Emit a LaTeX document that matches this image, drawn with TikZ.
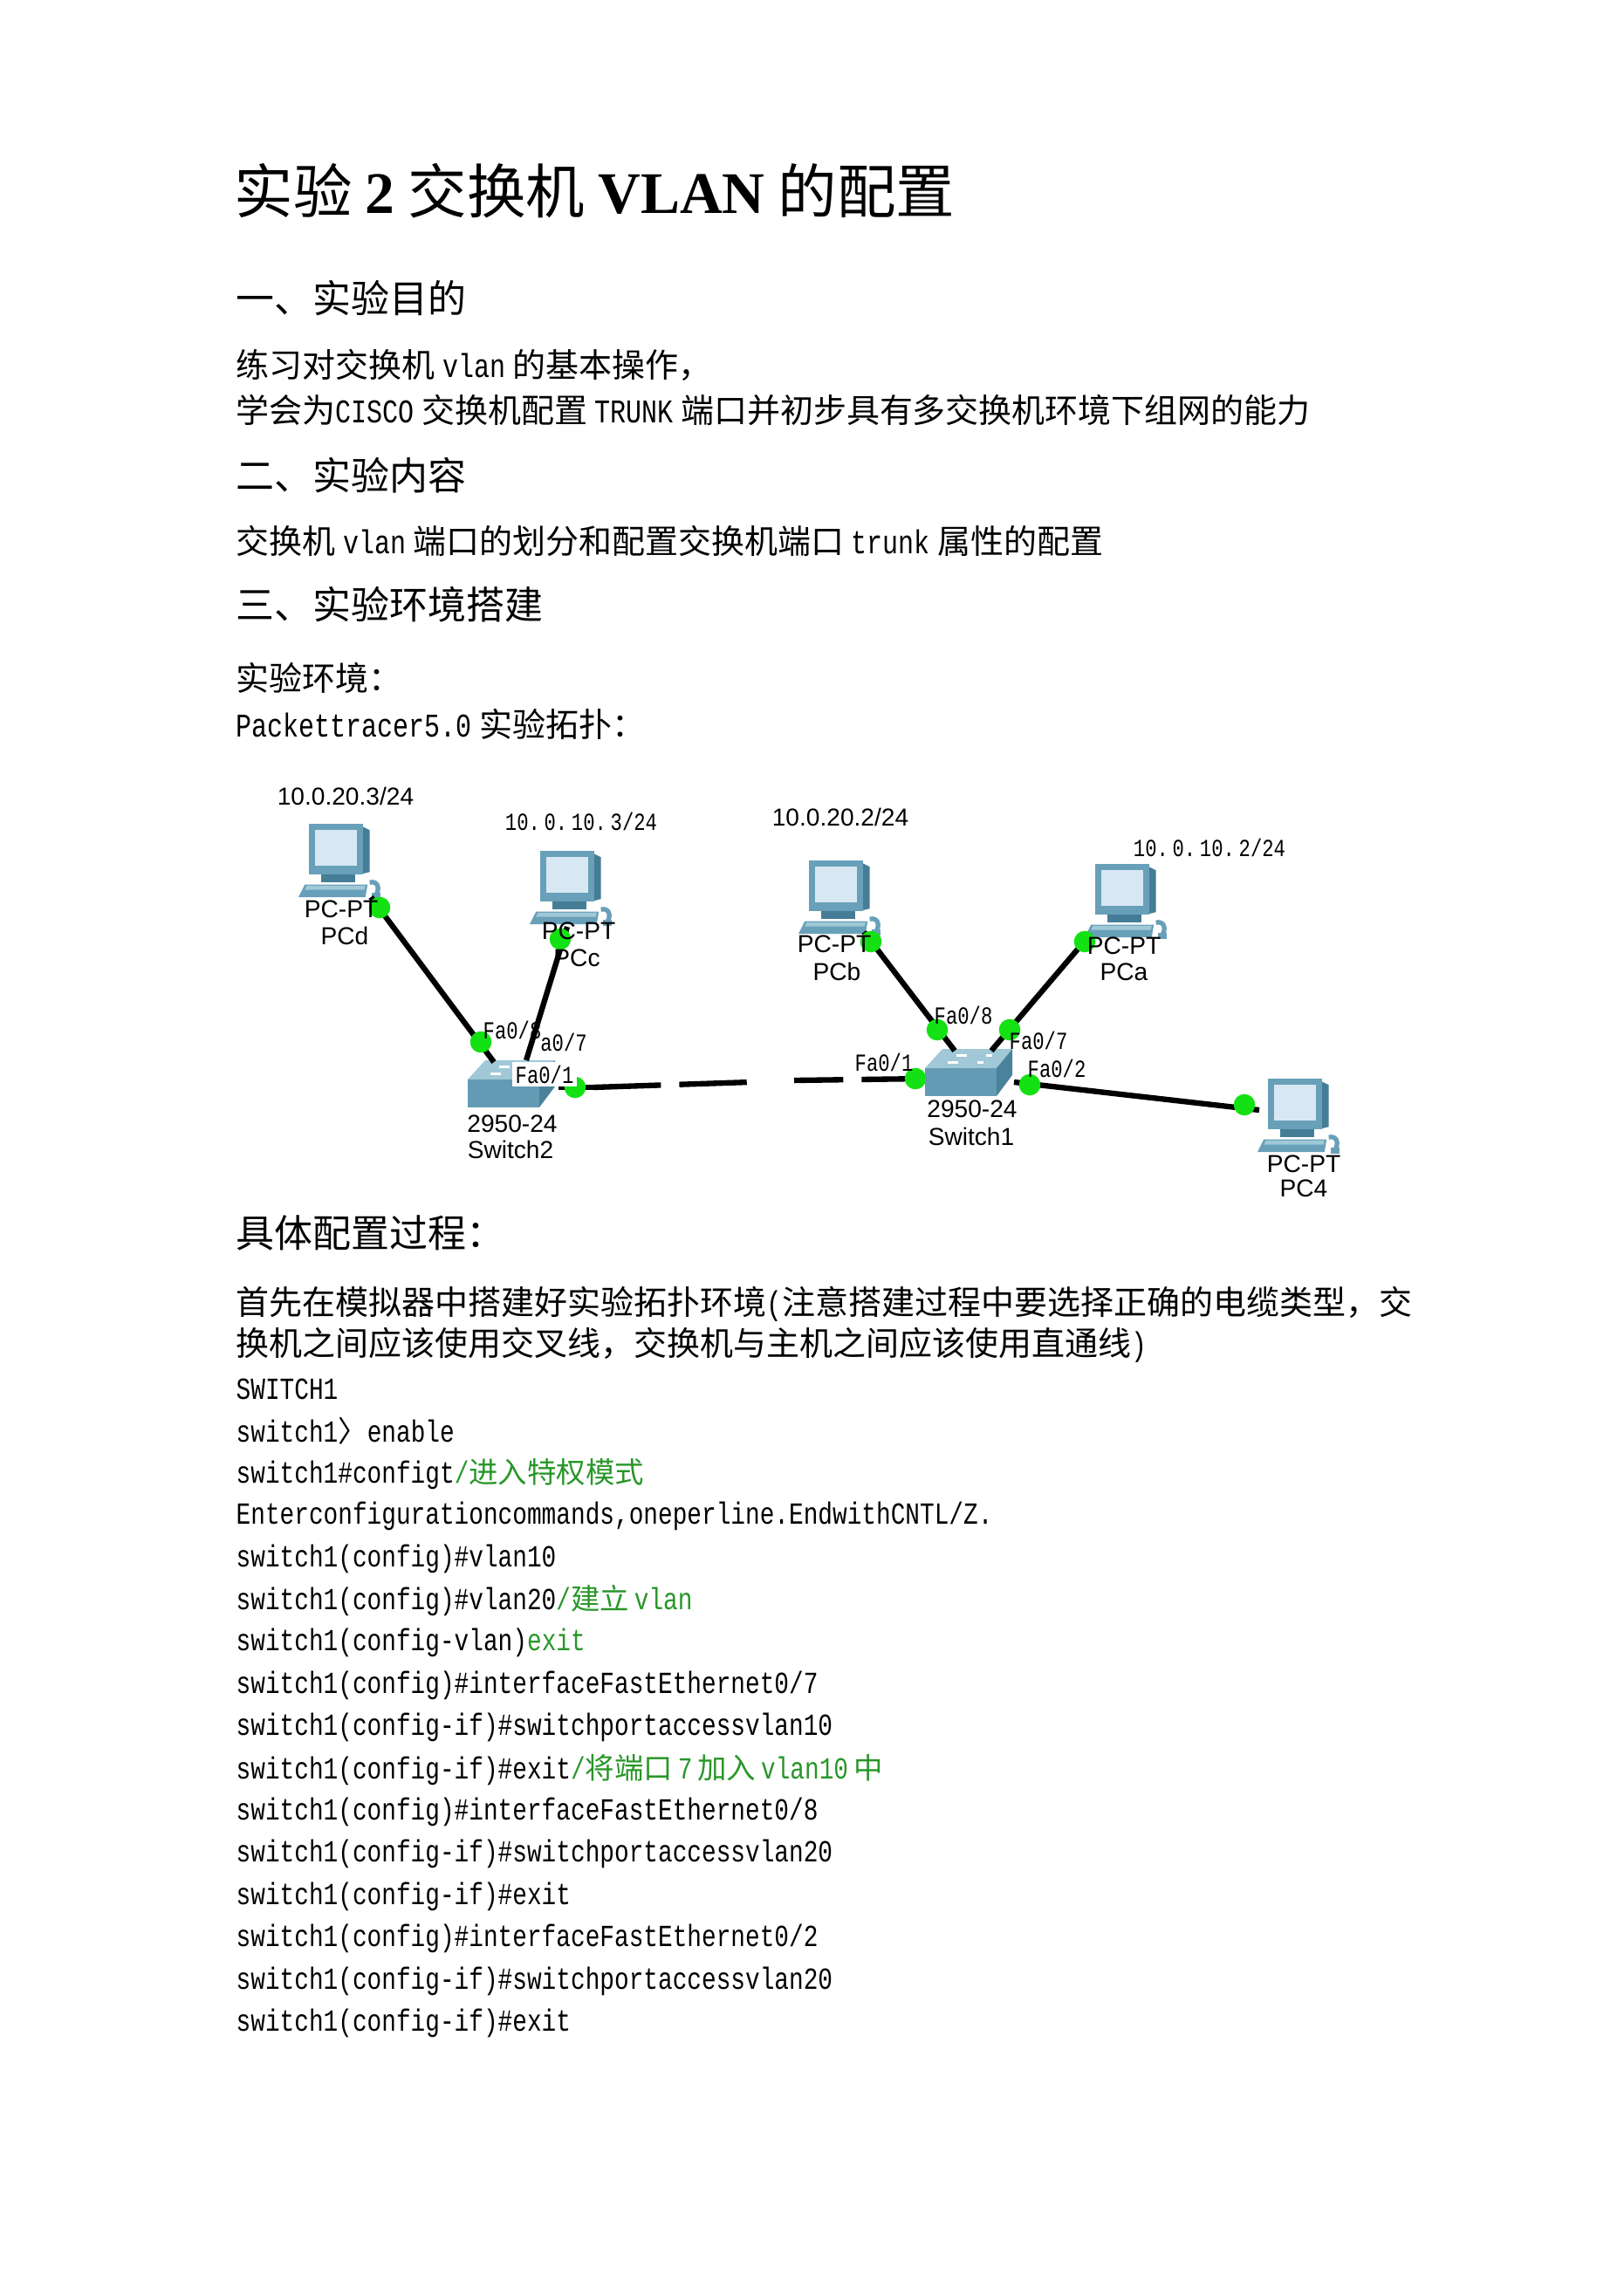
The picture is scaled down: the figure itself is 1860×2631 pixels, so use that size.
\documentclass[tikz,border=0pt]{standalone}
\usepackage{fontspec}
\setmainfont{Liberation Serif}
\newfontfamily\zh{Noto Sans CJK SC}
\newfontfamily\mono[FakeStretch=0.79]{Liberation Mono}
\newfontfamily\arial{Liberation Sans}
\definecolor{pcblue}{RGB}{105,160,185}
\definecolor{pcdark}{RGB}{70,125,150}
\definecolor{pcscreen}{RGB}{215,232,242}
\definecolor{swtop}{RGB}{160,200,215}
\definecolor{swfront}{RGB}{100,155,180}
\definecolor{swside}{RGB}{75,130,155}
\definecolor{dotgreen}{RGB}{20,225,20}
\definecolor{cmt}{RGB}{40,150,40}
\newcommand{\zhfont}[1]{\zh\fontsize{#1}{#1}\selectfont}
\begin{document}
\begin{tikzpicture}[x=0.01cm,y=-0.01cm,
  txt/.style={anchor=west,inner sep=0pt,font=\zhfont{10.8pt}},
  head/.style={anchor=west,inner sep=0pt,font=\zhfont{12.5pt}},
  code/.style={anchor=west,inner sep=0pt,font=\mono\fontsize{10pt}{10pt}\selectfont},
  lab/.style={inner sep=0pt,font=\arial\fontsize{8pt}{8pt}\selectfont},
  mlab/.style={inner sep=0pt,font=\mono\fontsize{8pt}{8pt}\selectfont},
  dot/.style={circle,fill=dotgreen,minimum size=7pt,inner sep=0pt},
  link/.style={line width=1.8pt,black},
  pc/.pic={
    \fill[pcdark] (60,2) -- (68,6) -- (68,46) -- (60,48) -- cycle;
    \fill[pcblue] (10,0) rectangle (62,48);
    \fill[pcscreen] (16,6) rectangle (56,40);
    \fill[pcdark] (22,48) rectangle (54,56);
    \fill[pcblue] (6,58) -- (66,58) -- (64,70) -- (0,70) -- cycle;
    \fill[swtop] (8,59) -- (64,59) -- (63,63) -- (6,63) -- cycle;
    \draw[pcblue,line width=1.5pt] (68,56) .. controls (76,54) and (78,62) .. (74,68);
    \fill[pcblue] (70,66) rectangle (78,72);
  },
  sw/.pic={
    \fill[swtop] (20,0) -- (100,0) -- (82,22) -- (0,22) -- cycle;
    \fill[swfront] (0,22) rectangle (82,54);
    \fill[swside] (82,22) -- (100,0) -- (100,30) -- (82,54) -- cycle;
    \fill[white] (36,6) rectangle (48,9);
    \fill[white] (70,6) rectangle (77,9);
    \fill[white] (26,14) rectangle (38,17);
    \fill[white] (60,14) rectangle (67,17);
  }]
\useasboundingbox (0,0) rectangle (1860,2631);

% ---- text above ----
\node[anchor=west,inner sep=0pt,font=\zhfont{19.2pt}] (title) at (268,219)
  {实验 {\rmfamily\bfseries 2} 交换机 {\rmfamily\bfseries VLAN} 的配置};
\node[head] (h1) at (270,342) {一、实验目的};
\node[txt] (t1) at (270,418) {练习对交换机 {\mono vlan} 的基本操作，};
\node[txt] (t2) at (270,470) {学会为{\mono CISCO} 交换机配置 {\mono TRUNK} 端口并初步具有多交换机环境下组网的能力};
\node[head] (h2) at (270,545) {二、实验内容};
\node[txt] (t3) at (270,620) {交换机 {\mono vlan} 端口的划分和配置交换机端口 {\mono trunk} 属性的配置};
\node[head] (h3) at (270,693) {三、实验环境搭建};
\node[txt] (t4) at (270,777) {实验环境：};
\node[txt] (t5) at (270,830) {{\mono Packettracer5.0} 实验拓扑：};

% ---- topology ----
\pic[scale=1.2] (pcd) at (342,944) {pc};
\pic[scale=1.2] (pcc) at (607,975) {pc};
\pic[scale=1.2] (pcb) at (915,986) {pc};
\pic[scale=1.2] (pca) at (1243,990) {pc};
\pic[scale=1.2] (pc4) at (1441,1236) {pc};
\pic (sw2) at (536,1215) {sw};
\pic (sw1) at (1060,1202) {sw};

\coordinate (pcdp) at (425,1028);
\coordinate (pccp) at (650,1062);
\coordinate (pcbp) at (990,1068);
\coordinate (pcap) at (1250,1070);
\coordinate (pc4p) at (1443,1272);
\coordinate (sw2a) at (566,1217);
\coordinate (sw2b) at (603,1215);
\coordinate (sw2c) at (640,1246);
\coordinate (sw1a) at (1094,1204);
\coordinate (sw1b) at (1136,1204);
\coordinate (sw1c) at (1162,1240);
\coordinate (sw1d) at (1060,1236);
\coordinate (gapl) at (860,1240);
\coordinate (gapr) at (910,1238);

\draw[link] (pcdp) -- (sw2a);
\draw[link] (pccp) -- (sw2b);
\draw[link] (sw2c) -- (680,1246);
\draw[link,dash pattern=on 22pt off 6pt] (680,1246) -- (gapl);
\draw[link,dash pattern=on 16pt off 6pt] (gapr) -- (sw1d);
\draw[link] (pcbp) -- (sw1a);
\draw[link] (pcap) -- (sw1b);
\draw[link] (sw1c) -- (pc4p);

\node[dot] (d1) at (435,1040) {};
\node[dot] (d2) at (551,1194) {};
\node[dot] (d3) at (642,1076) {};
\node[dot] (d5) at (659,1246) {};
\node[dot] (d6) at (998,1079) {};
\node[dot] (d7) at (1074,1180) {};
\node[dot] (d8) at (1243,1079) {};
\node[dot] (d9) at (1157,1180) {};
\node[dot] (d10) at (1049,1236) {};
\node[dot] (d11) at (1180,1243) {};
\node[dot] (d12) at (1426,1266) {};

\node[lab] (ip1) at (396,912) {10.0.20.3/24};
\node[mlab] (ip2) at (666,941) {10.\,0.\,10.\,3/24};
\node[lab] (ip3) at (963,936) {10.0.20.2/24};
\node[mlab] (ip4) at (1386,971) {10.\,0.\,10.\,2/24};

\node[lab] (l1) at (391,1042) {PC-PT};
\node[lab] (l2) at (395,1072) {PCd};
\node[lab] (l3) at (663,1067) {PC-PT};
\node[lab] (l4) at (661,1098) {PCc};
\node[lab] (l5) at (956,1082) {PC-PT};
\node[lab] (l6) at (959,1113) {PCb};
\node[lab] (l7) at (1288,1084) {PC-PT};
\node[lab] (l8) at (1288,1114) {PCa};
\node[lab] (l9) at (1494,1334) {PC-PT};
\node[lab] (l10) at (1494,1362) {PC4};
\node[lab] (l11) at (587,1288) {2950-24};
\node[lab] (l12) at (585,1317) {Switch2};
\node[lab] (l13) at (1114,1271) {2950-24};
\node[lab] (l14) at (1113,1302) {Switch1};

\node[mlab] (f1) at (587,1180) {Fa0/8};
\node[mlab] (f2) at (646,1194) {a0/7};
\node[mlab,fill=white,inner sep=1pt] (f3) at (624,1231) {Fa0/1};
\node[mlab] (f4) at (1104,1163) {Fa0/8};
\node[mlab] (f5) at (1190,1192) {Fa0/7};
\node[mlab] (f6) at (1013,1217) {Fa0/1};
\node[mlab] (f7) at (1211,1224) {Fa0/2};

% ---- below ----
\node[anchor=west,inner sep=0pt,font=\zhfont{12.5pt}] (h4) at (270,1413) {具体配置过程：};
\node[txt] (p1) at (270,1494) {首先在模拟器中搭建好实验拓扑环境{\mono (}注意搭建过程中要选择正确的电缆类型，交};
\node[txt] (p2) at (270,1541) {换机之间应该使用交叉线，交换机与主机之间应该使用直通线{\mono )}};

\node[code] (c0) at (270,1592) {SWITCH1};
\node[code] (c1) at (270,1640) {switch1{\zhfont{9.5pt}〉}enable};
\node[code] (c2) at (270,1689) {switch1\#configt\textcolor{cmt}{/{\zhfont{9.5pt}进入特权模式}}};
\node[code] (c3) at (270,1737) {Enterconfigurationcommands,oneperline.EndwithCNTL/Z.};
\node[code] (c4) at (270,1786) {switch1(config)\#vlan10};
\node[code] (c5) at (270,1834) {switch1(config)\#vlan20\textcolor{cmt}{/{\zhfont{9.5pt}建立}\,vlan}};
\node[code] (c6) at (270,1882) {switch1(config-vlan)\textcolor{cmt}{exit}};
\node[code] (c7) at (270,1931) {switch1(config)\#interfaceFastEthernet0/7};
\node[code] (c8) at (270,1979) {switch1(config-if)\#switchportaccessvlan10};
\node[code] (c9) at (270,2028) {switch1(config-if)\#exit\textcolor{cmt}{/{\zhfont{9.5pt}将端口}\,7\,{\zhfont{9.5pt}加入}\,vlan10\,{\zhfont{9.5pt}中}}};
\node[code] (c10) at (270,2076) {switch1(config)\#interfaceFastEthernet0/8};
\node[code] (c11) at (270,2124) {switch1(config-if)\#switchportaccessvlan20};
\node[code] (c12) at (270,2173) {switch1(config-if)\#exit};
\node[code] (c13) at (270,2221) {switch1(config)\#interfaceFastEthernet0/2};
\node[code] (c14) at (270,2270) {switch1(config-if)\#switchportaccessvlan20};
\node[code] (c15) at (270,2318) {switch1(config-if)\#exit};
\end{tikzpicture}
\end{document}
